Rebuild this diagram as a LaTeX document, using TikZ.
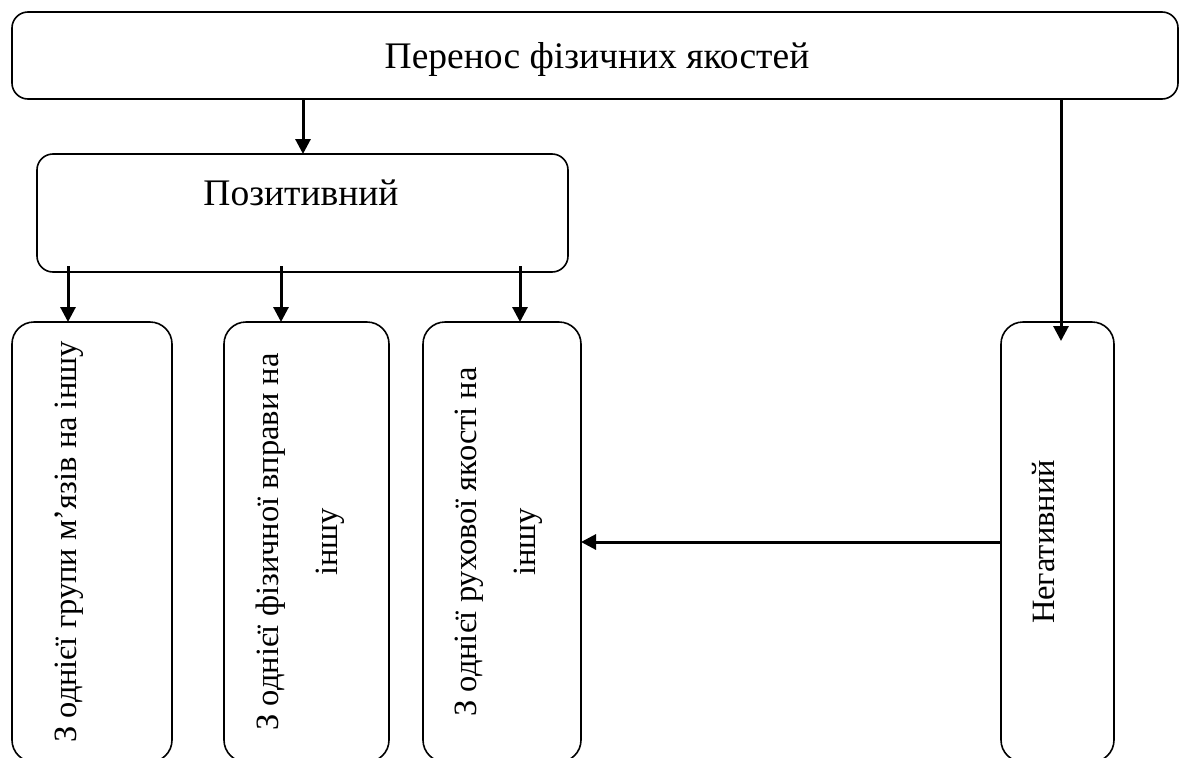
\documentclass[tikz,border=0pt]{standalone}
\usepackage{fontspec}
\setmainfont{Liberation Serif}
\usetikzlibrary{arrows.meta}
\begin{document}
\begin{tikzpicture}[x=1pt,y=-1pt,
  box/.style={draw,line width=1.6pt,rounded corners=16pt},
  vbox/.style={draw,line width=1.6pt,rounded corners=22pt},
  arr/.style={line width=3pt,-{Triangle[length=15pt,width=15pt]}},
  txt/.style={font=\fontsize{37.5}{45}\selectfont,inner sep=0pt},
  vtxt/.style={font=\fontsize{32.5}{59}\selectfont,inner sep=0pt,rotate=90,align=center}]
\useasboundingbox (0,0) rectangle (1179,758);
\clip (0,0) rectangle (1179,758);
% boxes
\draw[box] (12,12) rectangle (1178,99);
\node[txt,anchor=base] (title) at (597,68) {Перенос фізичних якостей};
\draw[box] (37,154) rectangle (568,272);
\node[txt,anchor=base] (poz) at (301,205) {Позитивний};
\draw[vbox] (12,322) rectangle (172,762);
\draw[vbox] (224,322) rectangle (389,762);
\draw[vbox] (423,322) rectangle (581,762);
\draw[vbox] (1001,322) rectangle (1114,762);
\node[vtxt] (b1) at (69,542) {З однієї групи м’язів на іншу};
\node[vtxt] (b2) at (300,542) {З однієї фізичної вправи на\\іншу};
\node[vtxt] (b3) at (499,542) {З однієї рухової якості на\\іншу};
\node[vtxt] (neg) at (1044,542) {Негативний};
% connector coordinates
\coordinate (t1) at (303,99);
\coordinate (p1) at (303,154);
\coordinate (t2) at (1061,99);
\coordinate (n1) at (1061,341);
\coordinate (s1) at (68,266);
\coordinate (e1) at (68,322);
\coordinate (s2) at (281,266);
\coordinate (e2) at (281,322);
\coordinate (s3) at (520,266);
\coordinate (e3) at (520,322);
\coordinate (h1) at (1001,542);
\coordinate (h2) at (581,542);
\draw[arr] (t1) -- (p1);
\draw[arr] (t2) -- (n1);
\draw[arr] (s1) -- (e1);
\draw[arr] (s2) -- (e2);
\draw[arr] (s3) -- (e3);
\draw[arr] (h1) -- (h2);
\end{tikzpicture}
\end{document}
